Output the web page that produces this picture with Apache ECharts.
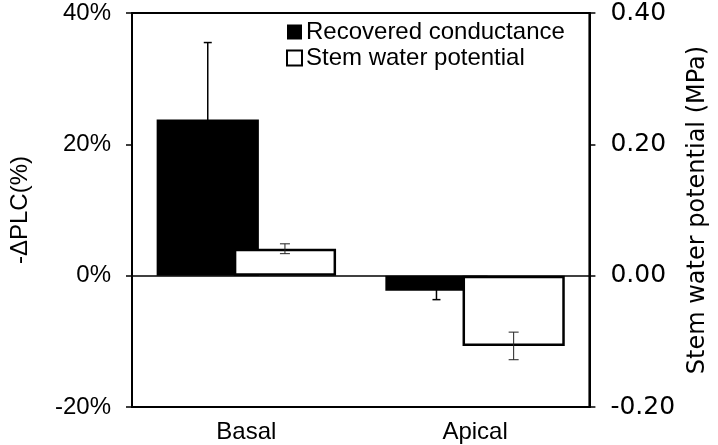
<!DOCTYPE html>
<html>
<head>
<meta charset="utf-8">
<script src="https://cdn.jsdelivr.net/npm/echarts@6/dist/echarts.min.js"></script>
<style>
html,body{margin:0;padding:0;background:#fff;}
#chart{width:718px;height:445px;}
</style>
</head>
<body>
<div id="chart"></div>
<script>
var categories = ['Basal', 'Apical'];
var conductance = [23.8, -2.3];
var conductanceErr = [11.7, 1.35];
var potential = [0.041, -0.107];
var potentialErr = [0.0075, 0.021];
var leftTicks = [-20, 0, 20, 40];
var rightTicks = [-0.2, 0, 0.2, 0.4];

var BAR_FRAC = 0.447;
var GAP = -0.245;
var OFF = (1 + GAP) / 2; // offset of bar centre in units of bar width

function errData(vals, errs) {
  return vals.map(function (v, i) { return [i, v - errs[i], v + errs[i]]; });
}

function makeErrRender(sign, capHalf, color, width) {
  return function (params, api) {
    var x = api.value(0);
    var lo = api.coord([x, api.value(1)]);
    var hi = api.coord([x, api.value(2)]);
    var bw = api.size([1, 0])[0] * BAR_FRAC;
    var cx = lo[0] + sign * OFF * bw;
    var st = { stroke: color, lineWidth: width };
    return {
      type: 'group',
      children: [
        { type: 'line', shape: { x1: cx, y1: lo[1], x2: cx, y2: hi[1] }, style: st },
        { type: 'line', shape: { x1: cx - capHalf, y1: lo[1], x2: cx + capHalf, y2: lo[1] }, style: st },
        { type: 'line', shape: { x1: cx - capHalf, y1: hi[1], x2: cx + capHalf, y2: hi[1] }, style: st }
      ]
    };
  };
}

var chart = echarts.init(document.getElementById('chart'), null, { renderer: 'canvas' });
var arial = 'Liberation Sans, Arial, sans-serif';
var dejavu = 'DejaVu Sans, Verdana, sans-serif';

chart.setOption({
  animation: false,
  backgroundColor: '#fff',
  grid: {
    left: 132, right: 119, top: 13, bottom: 38,
    show: true, borderColor: '#000', borderWidth: 2, backgroundColor: 'transparent'
  },
  legend: {
    data: ['Recovered conductance', 'Stem water potential'],
    orient: 'vertical',
    left: 281, top: 15,
    itemWidth: 15, itemHeight: 15, itemGap: 2,
    icon: 'rect',
    textStyle: { color: '#000', fontSize: 24, fontFamily: arial, lineHeight: 24, padding: [0, 0, 0, -1] }
  },
  xAxis: {
    type: 'category',
    data: categories,
    axisLine: { show: false, onZero: false },
    axisTick: { show: false },
    axisLabel: { color: '#000', fontSize: 24, fontFamily: arial, margin: 13 }
  },
  yAxis: [
    {
      type: 'value', min: -20, max: 40, interval: 20,
      position: 'left',
      name: '-ΔPLC(%)', nameLocation: 'middle', nameGap: 100,
      nameTextStyle: { color: '#000', fontSize: 24, fontFamily: arial },
      axisLine: { show: true, lineStyle: { color: '#000', width: 2 } },
      axisTick: { show: true, length: 6, lineStyle: { color: '#000', width: 1.5 } },
      axisLabel: { color: '#000', fontSize: 24, fontFamily: arial, margin: 21, formatter: '{value}%' },
      splitLine: { show: false }
    },
    {
      type: 'value', min: -0.2, max: 0.4, interval: 0.2,
      position: 'right',
      name: 'Stem water potential (MPa)', nameLocation: 'middle', nameGap: 91,
      nameTextStyle: { color: '#000', fontSize: 24, fontFamily: dejavu },
      axisLine: { show: true, lineStyle: { color: '#000', width: 2 } },
      axisTick: { show: true, length: 6, lineStyle: { color: '#000', width: 1.5 } },
      axisLabel: { color: '#000', fontSize: 25, fontFamily: dejavu, margin: 21,
        formatter: function (v) { return v.toFixed(2); } },
      splitLine: { show: false }
    }
  ],
  series: [
    {
      name: 'Recovered conductance',
      type: 'bar', yAxisIndex: 0,
      data: conductance,
      barWidth: (BAR_FRAC * 100) + '%',
      barGap: (GAP * 100) + '%',
      itemStyle: { color: '#000', borderColor: '#000', borderWidth: 0 },
      markLine: {
        silent: true, symbol: 'none', label: { show: false },
        lineStyle: { color: '#000', width: 1.5, type: 'solid' },
        data: [{ yAxis: 0 }]
      }
    },
    {
      name: 'Stem water potential',
      type: 'bar', yAxisIndex: 1,
      data: potential,
      barWidth: (BAR_FRAC * 100) + '%',
      barGap: (GAP * 100) + '%',
      itemStyle: { color: '#fff', borderColor: '#000', borderWidth: 2.5 }
    },
    {
      name: 'errC', type: 'custom', yAxisIndex: 0, z: 5,
      data: errData(conductance, conductanceErr),
      renderItem: makeErrRender(-1, 4, '#000', 1.5)
    },
    {
      name: 'errP', type: 'custom', yAxisIndex: 1, z: 5,
      data: errData(potential, potentialErr),
      renderItem: makeErrRender(1, 5, '#222', 1)
    }
  ]
});
</script>
</body>
</html>
